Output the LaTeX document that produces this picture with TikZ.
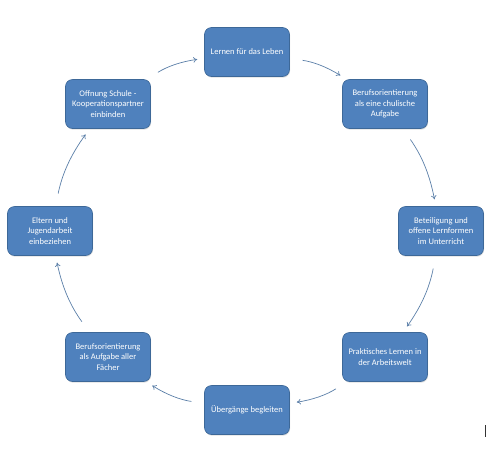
\documentclass[tikz,border=0pt]{standalone}
\usepackage{fontspec}
\setmainfont{Carlito}
\usetikzlibrary{arrows.meta, shadows}
\definecolor{boxblue}{HTML}{4F81BD}
\definecolor{boxline}{HTML}{3D6898}
\definecolor{arrowgrey}{HTML}{5B7FA8}
\definecolor{cursor}{HTML}{333333}

\begin{document}
\begin{tikzpicture}[x=1pt, y=-1pt,
  font=\fontsize{8.5}{10.5}\selectfont,
  b/.style={draw=boxline, fill=boxblue, text=white, rounded corners=7pt,
            align=center, minimum width=85pt, minimum height=49pt,
            inner sep=2pt, line width=0.6pt,
            drop shadow={opacity=0.25, shadow xshift=0.6pt, shadow yshift=-1.2pt}},
  ar/.style={-{To[length=4pt, width=5.5pt]}, draw=arrowgrey, line width=0.7pt,
             bend left=12, shorten <=13pt, shorten >=7pt}]
\useasboundingbox (0,0) rectangle (500,456);

\node[b] (leben) at (247,52) {Lernen für das Leben};
\node[b] (schule) at (385,104) {Berufsorientierung\\als eine chulische\\Aufgabe};
\node[b] (lernform) at (441,231) {Beteiligung und\\offene Lernformen\\im Unterricht};
\node[b] (praxis) at (385,357) {Praktisches Lernen in\\der Arbeitswelt};
\node[b] (uebergang) at (247,410) {Übergänge begleiten};
\node[b] (faecher) at (108,357) {Berufsorientierung\\als Aufgabe aller\\Fächer};
\node[b] (eltern) at (50,231) {Eltern und\\Jugendarbeit\\einbeziehen};
\node[b] (partner) at (108,104) {Offnung Schule -\\Kooperationspartner\\einbinden};

\draw[ar] (leben) to (schule);
\draw[ar] (schule) to (lernform);
\draw[ar] (lernform) to (praxis);
\draw[ar] (praxis) to (uebergang);
\draw[ar] (uebergang) to (faecher);
\draw[ar] (faecher) to (eltern);
\draw[ar] (eltern) to (partner);
\draw[ar] (partner) to (leben);

\draw[cursor, line width=1.2pt] (485.5,425) -- (485.5,437);
\end{tikzpicture}
\end{document}
